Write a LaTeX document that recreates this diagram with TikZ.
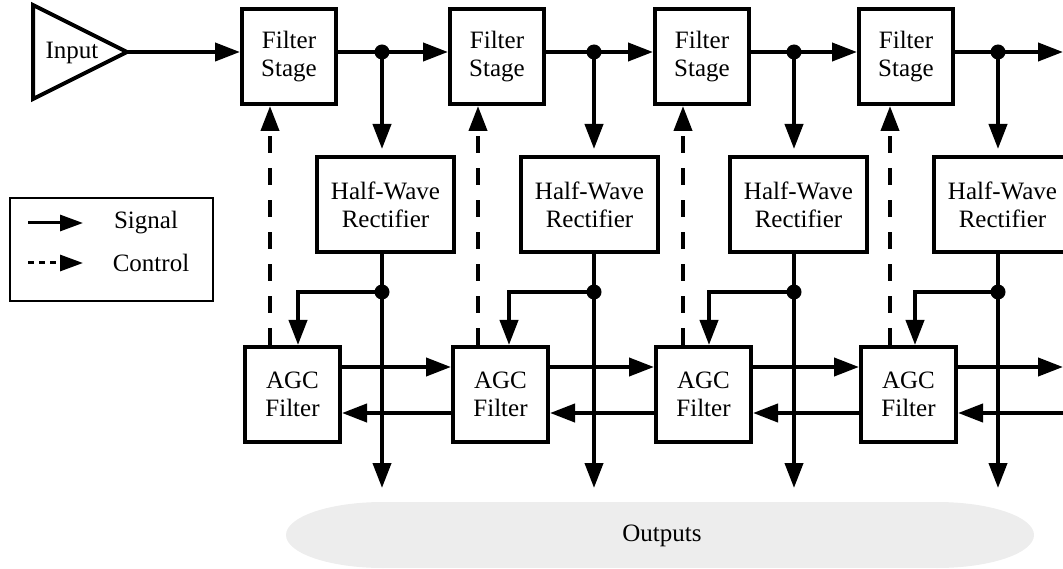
\documentclass[tikz,border=0pt]{standalone}
\usepackage{fontspec}
\setmainfont{Liberation Serif}
\usetikzlibrary{arrows.meta}
\definecolor{outfill}{HTML}{EDEDED}
\tikzset{
  txt/.style={font=\fontsize{25}{28}\selectfont, align=center, inner sep=0pt},
  blk/.style={txt, draw, line width=4pt, anchor=north west},
  fsbox/.style={blk, minimum width=94pt, minimum height=95pt},
  hwbox/.style={blk, minimum width=137pt, minimum height=95pt},
  agbox/.style={blk, minimum width=95pt, minimum height=95pt},
  wire/.style={line width=4pt},
  sig/.style={line width=4pt, -{Triangle[length=25pt,width=18pt]}},
  ctrl/.style={line width=4pt, dash pattern=on 17pt off 15pt, -{Triangle[length=25pt,width=18pt]}},
  dot/.style={circle, fill, inner sep=0pt, minimum size=15pt},
}
\begin{document}
\begin{tikzpicture}[x=1pt, y=-1pt]
\clip (0,0) rectangle (1063,569);
\useasboundingbox (0,0) rectangle (1063,569);

% outputs band
\fill[outfill] (383,535) ellipse [x radius=97, y radius=33];
\fill[outfill] (937,535) ellipse [x radius=97, y radius=33];
\fill[outfill] (383,502) rectangle (937,568);
\node[txt] (outputs) at (662,536) {Outputs};

% input
\draw[line width=4pt, line join=miter] (33,5) -- (127,52) -- (33,99) -- cycle;
\node[txt] (input) at (72,53) {Input};
\coordinate (intip) at (127,52);

% legend
\node[draw, line width=2pt, minimum width=203pt, minimum height=103pt, anchor=north west, inner sep=0pt] (legend) at (9,197) {};
\coordinate (ls1) at (28,223); \coordinate (le1) at (83,223);
\coordinate (ls2) at (28,263); \coordinate (le2) at (83,263);
\draw[line width=3pt, -{Triangle[length=23pt,width=16pt]}] (ls1) -- (le1);
\draw[line width=3pt, dash pattern=on 6pt off 5pt, -{Triangle[length=23pt,width=16pt]}] (ls2) -- (le2);
\node[txt] (lsig) at (146,223) {Signal};
\node[txt] (lctl) at (151,263) {Control};

\coordinate (fy) at (0,367);
\coordinate (by) at (0,413);

\foreach \i/\fsx/\hwx/\agx/\vx/\dx/\bx in
  {1/240/315/243/382/270/298, 2/448/519/451/594/478/509,
   3/653/728/654/794/683/709, 4/857/932/859/998/890/915}{
  \node[fsbox] (fs\i) at (\fsx,7) {Filter\\Stage};
  \node[hwbox] (hw\i) at (\hwx,155) {Half-Wave\\Rectifier};
  \node[agbox] (ag\i) at (\agx,345) {AGC\\Filter};
  \node[dot] (t\i) at (\vx,52) {};
  \node[dot] (b\i) at (\vx,292) {};
  \coordinate (br\i) at (\bx,292);
  \coordinate (c\i) at (\dx,0);
  \coordinate (o\i) at (\vx,488);
  \draw[wire] (fs\i.east |- t\i) -- (t\i.center);
  \draw[sig, shorten >=6pt] (t\i.center) -- (hw\i.north -| t\i);
  \draw[sig] (hw\i.south -| b\i) -- (o\i);
  \draw[sig] (b\i.center) -- (br\i) -- (ag\i.north -| br\i);
  \draw[ctrl] (ag\i.north -| c\i) -- (fs\i.south -| c\i);
}

\draw[sig] (intip) -- (fs1.west |- intip);
\foreach \i/\j in {1/2, 2/3, 3/4}{
  \draw[sig] (t\i.center) -- (fs\j.west |- t\i);
  \draw[sig] (ag\i.east |- fy) -- (ag\j.west |- fy);
  \draw[sig] (ag\j.west |- by) -- (ag\i.east |- by);
}
\coordinate (rt) at (1063,52);
\coordinate (rf) at (1063,367);
\coordinate (rb) at (1063,413);
\draw[sig] (t4.center) -- (rt);
\draw[sig] (ag4.east |- fy) -- (rf);
\draw[sig] (rb) -- (ag4.east |- by);
\end{tikzpicture}
\end{document}
